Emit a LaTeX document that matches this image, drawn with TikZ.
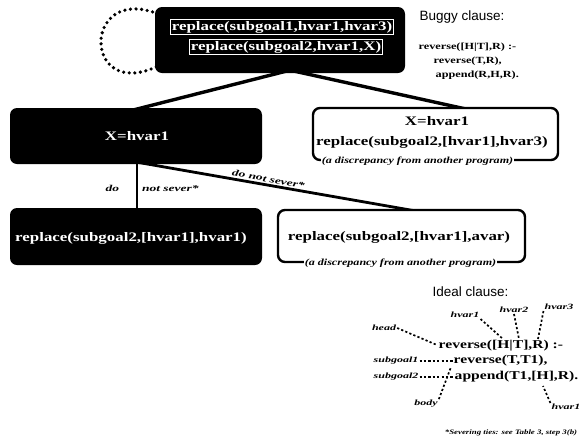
\documentclass[tikz,border=0pt]{standalone}
\usepackage{fontspec}
\setmainfont{Liberation Serif}
\newfontfamily\wf{Liberation Serif}[FakeStretch=1.3]
\newfontfamily\lf{Liberation Serif}[FakeStretch=1.5]
\newfontfamily\hf{Liberation Sans}
\usetikzlibrary{calc}
\pgfdeclarelayer{bg}
\pgfsetlayers{bg,main}
\tikzset{
  blackbox/.style={fill=black, rounded corners=7pt, inner sep=0pt},
  whitebox/.style={draw=black, fill=white, line width=2.4pt, rounded corners=7pt, inner sep=0pt},
  code/.style={font=\wf\bfseries\fontsize{13}{15}\selectfont, inner sep=1pt},
  wcode/.style={code, text=white},
  wframe/.style={wcode, draw=white, line width=0.6pt, inner sep=1.5pt},
  disc/.style={font=\wf\bfseries\itshape\fontsize{9.3}{11}\selectfont, fill=white, inner sep=1pt},
  elab/.style={font=\lf\bfseries\itshape\fontsize{9}{10}\selectfont, inner sep=1pt},
  hd/.style={font=\hf\fontsize{13.5}{16}\selectfont, inner sep=0.5pt},
  bug/.style={font=\wf\bfseries\fontsize{9.4}{11}\selectfont, inner sep=0.5pt},
  idl/.style={font=\wf\bfseries\fontsize{12}{14}\selectfont, inner sep=0.5pt},
  il/.style={font=\lf\bfseries\itshape\fontsize{8}{9}\selectfont, inner sep=1pt},
  fn/.style={font=\wf\bfseries\itshape\fontsize{6.8}{8}\selectfont, inner sep=0.5pt},
  thick edge/.style={line width=3.4pt},
  mid edge/.style={line width=2.8pt},
  thin edge/.style={line width=2pt},
  loopdots/.style={line width=3.6pt, dash pattern=on 0pt off 5.6pt, line cap=round},
  dc/.style={line width=1.7pt, dash pattern=on 2.2pt off 2.2pt}
}
\begin{document}
\begin{tikzpicture}[x=1pt,y=-1pt]
\begin{pgfonlayer}{bg}
\fill[white] (0,0) rectangle (584,445);
\end{pgfonlayer}
\useasboundingbox (0,0) rectangle (584,445);

% boxes
\node[blackbox, minimum width=250pt, minimum height=66pt] (top) at (280,40) {};
\node[blackbox, minimum width=252pt, minimum height=56pt] (lbox) at (136,136) {};
\node[whitebox, minimum width=245pt, minimum height=52pt] (rbox) at (435.5,134) {};
\node[blackbox, minimum width=252pt, minimum height=57pt] (blbox) at (136,236.5) {};
\node[whitebox, minimum width=247pt, minimum height=52pt] (brbox) at (401.5,236) {};

% box texts
\node[wframe] (t1) at (282,27) {replace(subgoal1,hvar1,hvar3)};
\node[wframe] (t2) at (286,47) {replace(subgoal2,hvar1,X)};
\node[wcode] (lt) at (137,136) {X=hvar1};
\node[code] (rt1) at (437,121) {X=hvar1};
\node[code] (rt2) at (432,142) {replace(subgoal2,[hvar1],hvar3)};
\node[disc] (rd) at ($(rbox.south)+(-18,0)$) {(a discrepancy from another program)};
\node[wcode] (blt) at (131,238) {replace(subgoal2,[hvar1],hvar1)};
\node[code] (brt) at (399,237) {replace(subgoal2,[hvar1],avar)};
\node[disc] (brd) at ($(brbox.south)+(-1,0)$) {(a discrepancy from another program)};

% connectors
\begin{pgfonlayer}{bg}
\draw[loopdots] ($(top.north west)+(3,7)$) .. controls (82,-16) and (82,102) .. ($(top.south west)+(3,-7)$);
\draw[thick edge] ($(top.south)+(10,-3)$) -- ($(lbox.north)+(-6,3)$);
\draw[thick edge] ($(top.south)+(10,-3)$) -- ($(rbox.north)+(34,3)$);
\draw[thin edge] ($(lbox.south)+(1,-2)$) -- node[pos=0.55, left=16pt, elab] {do} node[pos=0.55, right=3pt, elab] {not sever*} ($(blbox.north)+(1,2)$);
\draw[mid edge] ($(lbox.south)+(1,-2)$) -- node[pos=0.46, sloped, above=0.5pt, elab] {do not sever*} ($(brbox.north)+(19,3)$);
\end{pgfonlayer}

% buggy clause
\node[hd, anchor=west] (bugh) at (419,17) {Buggy clause:};
\node[bug, anchor=west] (b1) at (418,47) {reverse([H|T],R) :-};
\node[bug, anchor=west] (b2) at (433,61) {reverse(T,R),};
\node[bug, anchor=west] (b3) at (435,75) {append(R,H,R).};

% ideal clause
\node[hd, anchor=west] (ideh) at (432,292) {Ideal clause:};
\node[idl, anchor=west] (i1) at (438,346) {reverse([H|T],R) :-};
\node[idl, anchor=west] (i2) at (453,361) {reverse(T,T1),};
\node[idl, anchor=west] (i3) at (454,377) {append(T1,[H],R).};

\node[il] (head) at (384,328) {head};
\node[il] (hv1) at (465,315) {hvar1};
\node[il] (hv2) at (514,310) {hvar2};
\node[il] (hv3) at (559,307) {hvar3};
\node[il] (sg1) at (396,361) {subgoal1};
\node[il] (sg2) at (396,377) {subgoal2};
\node[il] (body) at (426,404) {body};
\node[il] (hv1b) at (566,407) {hvar1};

\coordinate (pHead) at (437,345);
\coordinate (pH) at (503,339);
\coordinate (pT) at (519,339);
\coordinate (pR) at (538,339);
\coordinate (pB) at (451,367);
\coordinate (pH2) at (543,386);

\draw[dc] (head.east) -- (pHead);
\draw[dc] (hv1.south east) -- (pH);
\draw[dc] (hv2.south) -- (pT);
\draw[dc] (hv3.south west) -- (pR);
\draw[dc] (sg1.east) -- (i2.west);
\draw[dc] (sg2.east) -- (i3.west);
\draw[dc] (body.north east) -- (pB);
\draw[dc] (hv1b.north west) -- (pH2);

\node[fn] (foot) at (511,433) {*Severing ties: see Table 3, step 3(b)};
\end{tikzpicture}
\end{document}
